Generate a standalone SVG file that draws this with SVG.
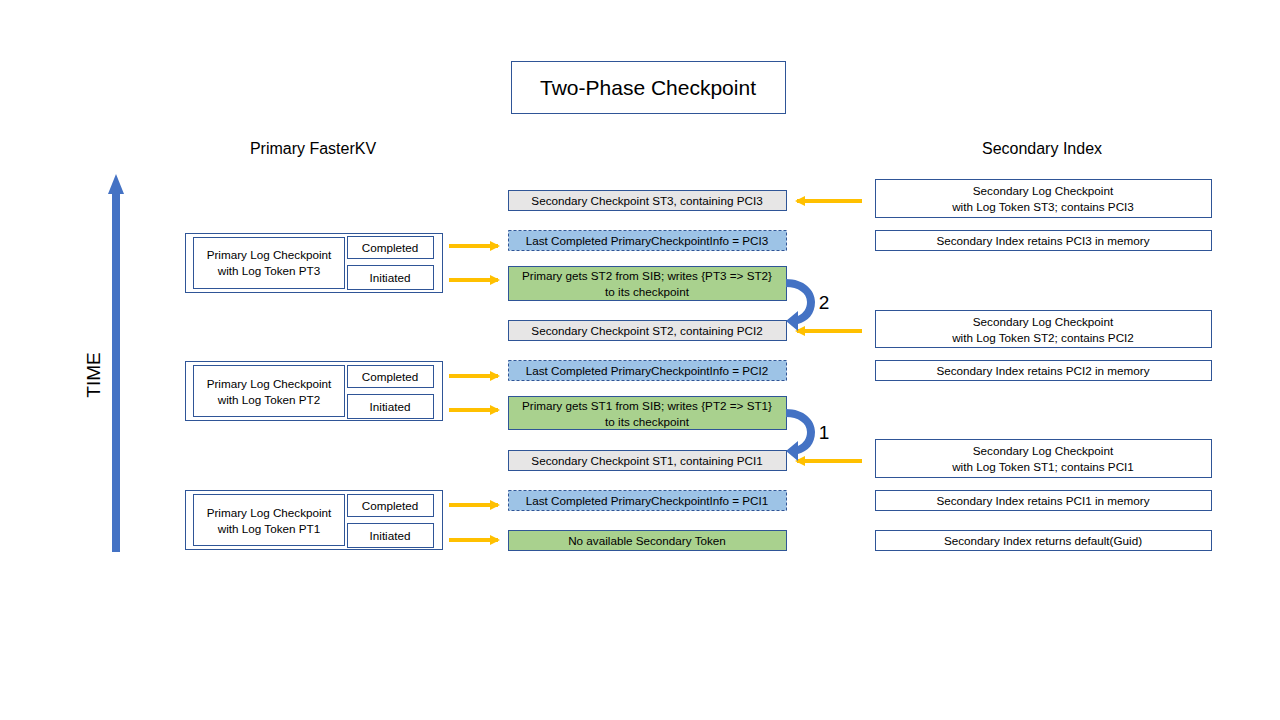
<svg xmlns="http://www.w3.org/2000/svg" width="1280" height="720" viewBox="0 0 1280 720">
<style>
text{font-family:"Liberation Sans",Arial,sans-serif;fill:#000;text-anchor:middle;dominant-baseline:central}
.b{fill:#fff;stroke:#2f5597;stroke-width:1}
.g{fill:#e7e6e6;stroke:#2f5597;stroke-width:1}
.l{fill:#9dc3e6;stroke:#2f5597;stroke-width:1;stroke-dasharray:3,2}
.gr{fill:#a9d18e;stroke:#2f5597;stroke-width:1}
.s{font-size:11.7px}
.h{font-size:16px}
.y{stroke:#ffc000;stroke-width:4;fill:none}
.c{fill:#4472c4}
</style>
<defs>
<marker id="ya" viewBox="0 0 10 10" refX="8" refY="5" markerWidth="2.5" markerHeight="2.5" orient="auto" markerUnits="strokeWidth">
<path d="M0,0 L10,5 L0,10 z" fill="#ffc000"/>
</marker>
</defs>
<rect width="1280" height="720" fill="#fff"/>
<g id="title">
<rect x="511.5" y="61.5" width="274" height="52" class="b"/>
<text x="648" y="87" style="font-size:21px">Two-Phase Checkpoint</text>
</g>
<text x="313" y="148" class="h">Primary FasterKV</text>
<text x="1042" y="148" class="h">Secondary Index</text>
<g id="time">
<rect x="112" y="193" width="8" height="359" fill="#4472c4"/>
<polygon points="108,194 116,174 124,194" fill="#4472c4"/>
<text x="0" y="0" transform="translate(93,375) rotate(-90)" style="font-size:19px">TIME</text>
</g>
<g id="p3">
<rect x="185.5" y="233.5" width="257" height="59" class="b"/>
<rect x="193.5" y="237.5" width="151" height="51" class="b"/>
<text x="269" y="254" class="s">Primary Log Checkpoint</text>
<text x="269" y="270" class="s">with Log Token PT3</text>
<rect x="347.5" y="236.5" width="86" height="22" class="b"/>
<text x="390" y="247.5" class="s">Completed</text>
<rect x="347.5" y="265.5" width="86" height="24" class="b"/>
<text x="390" y="277" class="s">Initiated</text>
</g>
<g id="p2">
<rect x="185.5" y="361.5" width="257" height="59" class="b"/>
<rect x="193.5" y="365.5" width="151" height="51" class="b"/>
<text x="269" y="383" class="s">Primary Log Checkpoint</text>
<text x="269" y="399" class="s">with Log Token PT2</text>
<rect x="347.5" y="365.5" width="86" height="22" class="b"/>
<text x="390" y="376.5" class="s">Completed</text>
<rect x="347.5" y="394.5" width="86" height="24" class="b"/>
<text x="390" y="406" class="s">Initiated</text>
</g>
<g id="p1">
<rect x="185.5" y="490.5" width="257" height="59" class="b"/>
<rect x="193.5" y="494.5" width="151" height="51" class="b"/>
<text x="269" y="512" class="s">Primary Log Checkpoint</text>
<text x="269" y="528" class="s">with Log Token PT1</text>
<rect x="347.5" y="494.5" width="86" height="22" class="b"/>
<text x="390" y="505.5" class="s">Completed</text>
<rect x="347.5" y="523.5" width="86" height="24" class="b"/>
<text x="390" y="535" class="s">Initiated</text>
</g>
<g id="m-st3"><rect x="508.5" y="190.5" width="278" height="20" class="g"/><text x="647" y="200.5" class="s">Secondary Checkpoint ST3, containing PCI3</text></g>
<g id="m-pci3"><rect x="508.5" y="230.5" width="278" height="20" class="l"/><text x="647" y="240.5" class="s">Last Completed PrimaryCheckpointInfo = PCI3</text></g>
<g id="m-st2get"><rect x="508.5" y="266.5" width="278" height="34" class="gr"/><text x="647" y="275.5" class="s">Primary gets ST2 from SIB; writes {PT3 =&gt; ST2}</text><text x="647" y="291" class="s">to its checkpoint</text></g>
<g id="m-st2"><rect x="508.5" y="320.5" width="278" height="20" class="g"/><text x="647" y="330.5" class="s">Secondary Checkpoint ST2, containing PCI2</text></g>
<g id="m-pci2"><rect x="508.5" y="360.5" width="278" height="20" class="l"/><text x="647" y="370.5" class="s">Last Completed PrimaryCheckpointInfo = PCI2</text></g>
<g id="m-st1get"><rect x="508.5" y="396.5" width="278" height="33" class="gr"/><text x="647" y="405.5" class="s">Primary gets ST1 from SIB; writes {PT2 =&gt; ST1}</text><text x="647" y="421" class="s">to its checkpoint</text></g>
<g id="m-st1"><rect x="508.5" y="450.5" width="278" height="20" class="g"/><text x="647" y="460.5" class="s">Secondary Checkpoint ST1, containing PCI1</text></g>
<g id="m-pci1"><rect x="508.5" y="490.5" width="278" height="20" class="l"/><text x="647" y="500.5" class="s">Last Completed PrimaryCheckpointInfo = PCI1</text></g>
<g id="m-none"><rect x="508.5" y="530.5" width="278" height="20" class="gr"/><text x="647" y="540.5" class="s">No available Secondary Token</text></g>
<g id="s-st3"><rect x="875.5" y="179.5" width="336" height="38" class="b"/><text x="1043" y="190" class="s">Secondary Log Checkpoint</text><text x="1043" y="206" class="s">with Log Token ST3; contains PCI3</text></g>
<g id="s-pci3"><rect x="875.5" y="230.5" width="336" height="20" class="b"/><text x="1043" y="240.5" class="s">Secondary Index retains PCI3 in memory</text></g>
<g id="s-st2"><rect x="875.5" y="310.5" width="336" height="37" class="b"/><text x="1043" y="321" class="s">Secondary Log Checkpoint</text><text x="1043" y="337" class="s">with Log Token ST2; contains PCI2</text></g>
<g id="s-pci2"><rect x="875.5" y="360.5" width="336" height="20" class="b"/><text x="1043" y="370.5" class="s">Secondary Index retains PCI2 in memory</text></g>
<g id="s-st1"><rect x="875.5" y="439.5" width="336" height="38" class="b"/><text x="1043" y="450" class="s">Secondary Log Checkpoint</text><text x="1043" y="466" class="s">with Log Token ST1; contains PCI1</text></g>
<g id="s-pci1"><rect x="875.5" y="490.5" width="336" height="20" class="b"/><text x="1043" y="500.5" class="s">Secondary Index retains PCI1 in memory</text></g>
<g id="s-def"><rect x="875.5" y="530.5" width="336" height="20" class="b"/><text x="1043" y="540.5" class="s">Secondary Index returns default(Guid)</text></g>
<g id="connectors">
<line x1="449" y1="246" x2="498" y2="246" class="y" marker-end="url(#ya)"/>
<line x1="449" y1="280" x2="498" y2="280" class="y" marker-end="url(#ya)"/>
<line x1="449" y1="376" x2="498" y2="376" class="y" marker-end="url(#ya)"/>
<line x1="449" y1="410" x2="498" y2="410" class="y" marker-end="url(#ya)"/>
<line x1="449" y1="505" x2="498" y2="505" class="y" marker-end="url(#ya)"/>
<line x1="449" y1="540" x2="498" y2="540" class="y" marker-end="url(#ya)"/>
<line x1="862" y1="201" x2="797" y2="201" class="y" marker-end="url(#ya)"/>
<line x1="862" y1="331" x2="797" y2="331" class="y" marker-end="url(#ya)"/>
<line x1="862" y1="461" x2="797" y2="461" class="y" marker-end="url(#ya)"/>
<path class="c" d="M786,279 C804,279 815,290 815,302 C815,314 808,321 798,324 L798,331 L786,321 L798,311 L798,316 C804,313 807,308 807,302 C807,293 798,287 786,287 Z"/>
<path class="c" d="M786,409 C804,409 815,420 815,432 C815,444 808,451 798,454 L798,461 L786,451 L798,441 L798,446 C804,443 807,438 807,432 C807,423 798,417 786,417 Z"/>
<text x="824" y="302" style="font-size:19px">2</text>
<text x="824" y="432" style="font-size:19px">1</text>
</g>
</svg>
